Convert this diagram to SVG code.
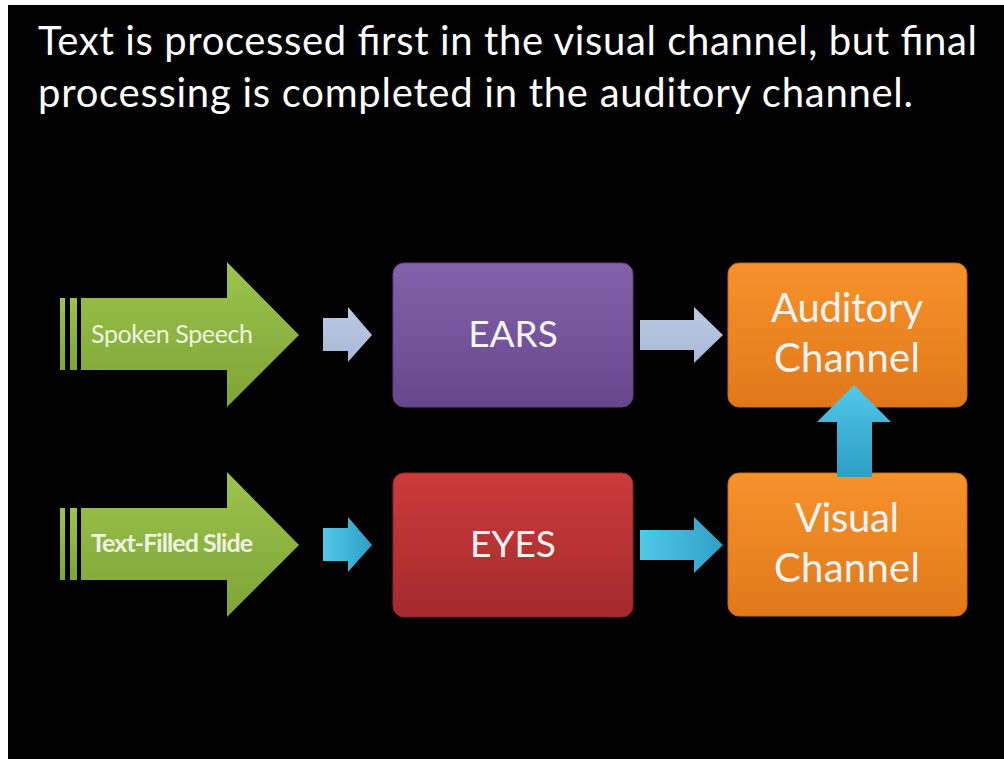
<svg xmlns="http://www.w3.org/2000/svg" width="1004" height="759" viewBox="0 0 1004 759">
<defs>
<style>
.t{font-family:Lato,"Open Sans","Liberation Sans",sans-serif;fill:#ffffff}
.title{font-size:40px}
.lbl{font-size:25px;fill:#eef4e0}
.box{font-size:37px;text-anchor:middle;fill:#f4f4f4}
.ch{font-size:40px}
</style>
<linearGradient id="gGreen" x1="0" y1="0" x2="0" y2="1"><stop offset="0" stop-color="#9cc34c"/><stop offset="1" stop-color="#7ea535"/></linearGradient>
<linearGradient id="gPurple" x1="0" y1="0" x2="0" y2="1"><stop offset="0" stop-color="#8462ab"/><stop offset="1" stop-color="#66478c"/></linearGradient>
<linearGradient id="gRed" x1="0" y1="0" x2="0" y2="1"><stop offset="0" stop-color="#cc3b3b"/><stop offset="1" stop-color="#a42a2c"/></linearGradient>
<linearGradient id="gOrange" x1="0" y1="0" x2="0" y2="1"><stop offset="0" stop-color="#f7922a"/><stop offset="1" stop-color="#e0781a"/></linearGradient>
<linearGradient id="gCyan" x1="0" y1="0" x2="0" y2="1"><stop offset="0" stop-color="#52c8ea"/><stop offset="1" stop-color="#2a9ec4"/></linearGradient>
<linearGradient id="gCyanH" x1="0" y1="0" x2="1" y2="0"><stop offset="0" stop-color="#52c8ea"/><stop offset="1" stop-color="#2f9fc6"/></linearGradient>
<linearGradient id="gGray" x1="0" y1="0" x2="0" y2="1"><stop offset="0" stop-color="#bccae2"/><stop offset="1" stop-color="#a8b8d6"/></linearGradient>
</defs>
<rect x="0" y="0" width="1004" height="759" fill="#ffffff"/>
<rect x="8" y="5" width="996" height="754" fill="#000000"/>
<g id="title">
<text class="t title" x="38" y="55" textLength="939">Text is processed first in the visual channel, but final</text>
<text class="t title" x="38" y="107" textLength="875">processing is completed in the auditory channel.</text>
</g>
<g id="spoken-speech">
<rect x="60" y="298" width="5" height="72" fill="url(#gGreen)"/>
<rect x="70" y="298" width="7" height="72" fill="url(#gGreen)"/>
<path d="M81,298 H227 V262 L299,335 L227,407 V370 H81 Z" fill="url(#gGreen)"/>
<text class="t lbl" x="91" y="343" textLength="162">Spoken Speech</text>
</g>
<g id="text-filled-slide">
<rect x="60" y="508" width="5" height="72" fill="url(#gGreen)"/>
<rect x="70" y="508" width="7" height="72" fill="url(#gGreen)"/>
<path d="M81,508 H227 V472 L299,545 L227,617 V580 H81 Z" fill="url(#gGreen)"/>
<text class="t lbl" x="91" y="552" font-weight="bold" textLength="162">Text-Filled Slide</text>
</g>
<g id="ears">
<rect x="393" y="263" width="240" height="144" rx="11" fill="url(#gPurple)" stroke="#5d4183" stroke-width="1"/>
<text class="t box" x="513" y="347">EARS</text>
</g>
<g id="eyes">
<rect x="393" y="473" width="240" height="144" rx="11" fill="url(#gRed)" stroke="#8e2426" stroke-width="1"/>
<text class="t box" x="513" y="557">EYES</text>
</g>
<g id="auditory-channel">
<rect x="728" y="263" width="239" height="144" rx="11" fill="url(#gOrange)" stroke="#c96a14" stroke-width="1"/>
<text class="t box ch" x="847" y="322" textLength="152">Auditory</text>
<text class="t box ch" x="847" y="372" textLength="146">Channel</text>
</g>
<g id="visual-channel">
<rect x="728" y="473" width="239" height="143" rx="11" fill="url(#gOrange)" stroke="#c96a14" stroke-width="1"/>
<text class="t box ch" x="847" y="532" textLength="104">Visual</text>
<text class="t box ch" x="847" y="582" textLength="146">Channel</text>
</g>
<g id="connectors">
<path d="M323,318 H348 V307 L372,335 L348,362 V351 H323 Z" fill="url(#gGray)"/>
<path d="M323,528 H348 V517 L372,545 L348,572 V561 H323 Z" fill="url(#gCyanH)"/>
<path d="M640,320 H694 V307 L723,335 L694,363 V350 H640 Z" fill="url(#gGray)"/>
<path d="M640,530 H694 V517 L723,545 L694,573 V560 H640 Z" fill="url(#gCyanH)"/>
<path d="M837,477 V422 H817 L854,385 L891,422 H872 V477 Z" fill="url(#gCyan)"/>
</g>
</svg>
